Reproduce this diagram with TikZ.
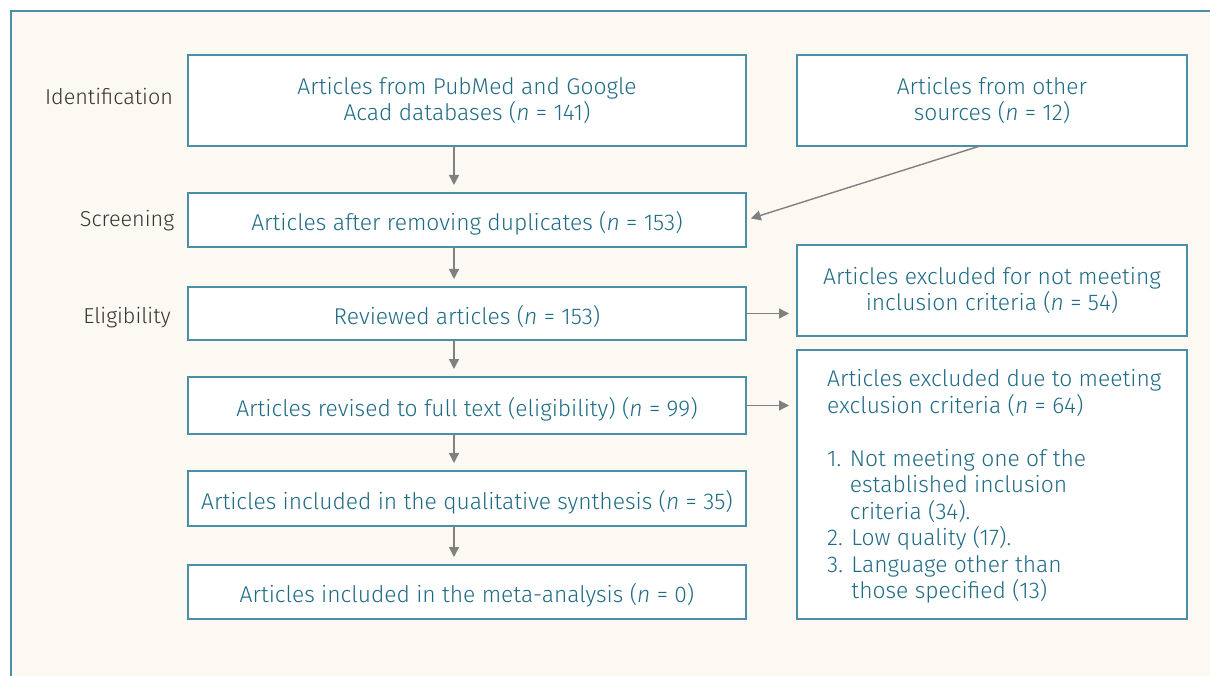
\documentclass[tikz,border=0pt]{standalone}
\usepackage{fontspec}
\setmainfont{Fira Sans Light}
\usetikzlibrary{arrows.meta}
\definecolor{frameteal}{HTML}{4A8FA8}
\definecolor{cream}{HTML}{FCF9F2}
\definecolor{txtteal}{HTML}{1E6B86}
\definecolor{lblgray}{HTML}{333333}
\definecolor{arrgray}{HTML}{808080}
\tikzset{
  boxnode/.style={draw=frameteal, line width=1.2pt, fill=white, inner sep=0pt, outer sep=0pt},
  boxtext/.style={text=txtteal, align=center, font=\fontsize{22.8}{26.5}\selectfont},
  onetext/.style={boxtext, yshift=-3.5pt},
  stagelabel/.style={text=lblgray, font=\fontsize{21.6}{24}\selectfont},
  flowarrow/.style={draw=arrgray, line width=1.4pt, -{Triangle[width=10pt,length=10pt]}, shorten >=8pt}
}
\begin{document}
\begin{tikzpicture}[x=1pt,y=-1pt]
\useasboundingbox (0,0) rectangle (1210,676);
\clip (0,0) rectangle (1210,676);
\fill[white] (0,0) rectangle (1210,676);
\draw[frameteal, line width=1.5pt, fill=cream] (11,11) rectangle (1240,700);

% boxes
\node[boxnode, minimum width=558pt, minimum height=91pt, anchor=north west] (b1) at (188,55) {};
\node[boxnode, minimum width=390pt, minimum height=91pt, anchor=north west] (b2) at (797,55) {};
\node[boxnode, minimum width=558pt, minimum height=54pt, anchor=north west] (b3) at (188,193) {};
\node[boxnode, minimum width=558pt, minimum height=53pt, anchor=north west] (b4) at (188,287) {};
\node[boxnode, minimum width=390pt, minimum height=91pt, anchor=north west] (b5) at (797,245) {};
\node[boxnode, minimum width=558pt, minimum height=57pt, anchor=north west] (b6) at (188,377) {};
\node[boxnode, minimum width=390pt, minimum height=269pt, anchor=north west] (b7) at (797,350) {};
\node[boxnode, minimum width=558pt, minimum height=55pt, anchor=north west] (b8) at (188,471) {};
\node[boxnode, minimum width=558pt, minimum height=54pt, anchor=north west] (b9) at (188,565) {};

% texts
\node[boxtext] (t1) at (b1.center) {Articles from PubMed and Google\\Acad databases (\textit{n} = 141)};
\node[boxtext] (t2) at (b2.center) {Articles from other\\sources (\textit{n} = 12)};
\node[onetext] (t3) at (b3.center) {Articles after removing duplicates (\textit{n} = 153)};
\node[onetext] (t4) at (b4.center) {Reviewed articles (\textit{n} = 153)};
\node[boxtext] (t5) at (b5.center) {Articles excluded for not meeting\\inclusion criteria (\textit{n} = 54)};
\node[onetext] (t6) at (b6.center) {Articles revised to full text (eligibility) (\textit{n} = 99)};
\node[boxtext, align=left, anchor=north west, inner sep=0pt] (t7) at (827,369.5)
  {Articles excluded due to meeting\\exclusion criteria (\textit{n} = 64)\\[26.5pt]
   1. Not meeting one of the\\
   \hphantom{1. }established inclusion\\
   \hphantom{1. }criteria (34).\\
   2. Low quality (17).\\
   3. Language other than\\
   \hphantom{3. }those specified (13)};
\node[onetext] (t8) at (b8.center) {Articles included in the qualitative synthesis (\textit{n} = 35)};
\node[onetext] (t9) at (b9.center) {Articles included in the meta-analysis (\textit{n} = 0)};

% stage labels
\node[stagelabel] (l1) at (109,96) {Identification};
\node[stagelabel] (l2) at (127,221) {Screening};
\node[stagelabel] (l3) at (127,318) {Eligibility};

% arrows
\coordinate (ax) at (454,0);
\draw[flowarrow] (b1.south -| ax) -- (b3.north -| ax);
\draw[flowarrow] (b3.south -| ax) -- (b4.north -| ax);
\draw[flowarrow] (b4.south -| ax) -- (b6.north -| ax);
\draw[flowarrow] (b6.south -| ax) -- (b8.north -| ax);
\draw[flowarrow] (b8.south -| ax) -- (b9.north -| ax);
\coordinate (d1) at (980,146);
\draw[flowarrow, shorten >=5pt] (d1) -- (b3.east);
\draw[flowarrow] (b4.east) -- (b4.east -| b5.west);
\draw[flowarrow] (b6.east) -- (b6.east -| b7.west);
\end{tikzpicture}
\end{document}
